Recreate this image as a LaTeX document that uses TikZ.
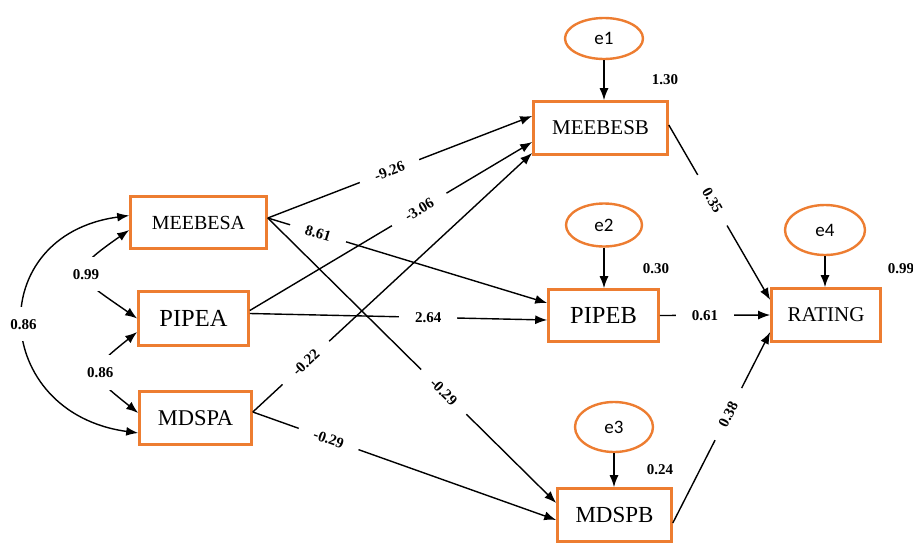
\documentclass[tikz,border=0pt]{standalone}
\usepackage{fontspec}
\setmainfont{Liberation Serif}
\newfontfamily\errfont{Carlito}
\usetikzlibrary{shapes.geometric,arrows.meta,calc}
\definecolor{semorange}{HTML}{ED7D31}

\begin{document}
\begin{tikzpicture}[x=1pt, y=-1pt,
  var/.style={rectangle, draw=semorange, line width=2.6pt, inner sep=0pt, fill=white},
  err/.style={ellipse, draw=semorange, line width=2.4pt, inner sep=0pt, font=\errfont\fontsize{19}{22}\selectfont},
  coef/.style={font=\bfseries\fontsize{15}{18}\selectfont, fill=white, inner xsep=16pt, inner ysep=1pt},
  covcoef/.style={coef, inner xsep=2pt, inner ysep=12pt},
  effect/.style={-{Latex[length=12pt,width=9pt]}, line width=1.4pt},
  cov/.style={{Latex[length=12pt,width=9pt]}-{Latex[length=12pt,width=9pt]}, line width=1.4pt}
]
\useasboundingbox (0,0) rectangle (913,544);
% exogenous
\node[var, minimum width=136, minimum height=52, font=\fontsize{20}{24}\selectfont] (MEEBESA) at (198.5,222.5) {MEEBESA};
\node[var, minimum width=110, minimum height=54, font=\fontsize{24.5}{28}\selectfont] (PIPEA) at (193.5,318.5) {PIPEA};
\node[var, minimum width=112, minimum height=53, font=\fontsize{22.5}{26}\selectfont] (MDSPA) at (195.5,418) {MDSPA};
% endogenous
\node[var, minimum width=134, minimum height=53, font=\fontsize{21}{25}\selectfont] (MEEBESB) at (600.5,128) {MEEBESB};
\node[var, minimum width=110, minimum height=52, font=\fontsize{24.5}{28}\selectfont] (PIPEB) at (603.5,315.5) {PIPEB};
\node[var, minimum width=114, minimum height=53, font=\fontsize{23}{27}\selectfont] (MDSPB) at (614.5,515) {MDSPB};
\node[var, minimum width=109, minimum height=53, font=\fontsize{21}{25}\selectfont] (RATING) at (826,315) {RATING};
% errors
\node[err, minimum width=78, minimum height=41] (e1) at (604,38.5) {e1};
\node[err, minimum width=76, minimum height=43] (e2) at (604,225) {e2};
\node[err, minimum width=78, minimum height=50] (e3) at (614,427) {e3};
\node[err, minimum width=80, minimum height=50] (e4) at (825,230) {e4};
% variances
\node[coef, fill=none, inner sep=0pt] (v1) at (665,80) {1.30};
\node[coef, fill=none, inner sep=0pt] (v2) at (656,269) {0.30};
\node[coef, fill=none, inner sep=0pt] (v3) at (660,470) {0.24};
\node[coef, fill=none, inner sep=0pt] (v4) at (901,269) {0.99};
% error paths
\draw[effect] (e1) -- (e1 |- MEEBESB.north);
\draw[effect] (e2) -- (e2 |- PIPEB.north);
\draw[effect] (e3) -- (e3 |- MDSPB.north);
\draw[effect] (e4) -- (e4 |- RATING.north);
% covariances
\draw[cov] ([yshift=7]MEEBESA.west) .. controls +(-147,20) and +(-147,-20) .. node[covcoef]{0.86} ([yshift=-15]MDSPA.west);
\draw[cov] ([yshift=-7.5]MEEBESA.west) .. controls +(-63,44) and +(-63,-44) .. node[covcoef]{0.99} (PIPEA.west);
\draw[cov] ([yshift=-13.5]PIPEA.west) .. controls +(-50,40) and +(-50,-40) .. node[covcoef]{0.86} ([yshift=5]MDSPA.west);
% paths A -> B
\draw[effect] ([yshift=4.5]MEEBESA.east) -- node[coef, sloped, pos=0.46]{-9.26} ([yshift=12]MEEBESB.west);
\draw[effect] ([yshift=4.5]MEEBESA.east) -- node[coef, sloped, pos=0.18]{8.61} ([yshift=12.5]PIPEB.west);
\draw[effect] ([yshift=4.5]MEEBESA.east) -- node[coef, sloped, pos=0.61]{-0.29} ([yshift=12]MDSPB.west);
\draw[effect] ([yshift=8]PIPEA.east) -- node[coef, sloped, pos=0.6]{-3.06} ([yshift=-14]MEEBESB.west);
\draw[effect] ([yshift=5]PIPEA.east) -- node[coef, pos=0.6]{2.64} ([yshift=-4.5]PIPEB.west);
\draw[effect] ([yshift=6]MDSPA.east) -- node[coef, sloped, pos=0.19]{-0.22} ([yshift=-25]MEEBESB.west);
\draw[effect] ([yshift=6]MDSPA.east) -- node[coef, sloped, pos=0.25]{-0.29} ([yshift=-5]MDSPB.west);
% paths B -> RATING
\draw[effect] ([yshift=3]MEEBESB.east) -- node[coef, sloped, pos=0.43]{0.35} ([yshift=15]RATING.west);
\draw[effect] (PIPEB.east) -- node[coef, pos=0.41]{0.61} (RATING.west);
\draw[effect] ([yshift=-8]MDSPB.east) -- node[coef, sloped, pos=0.57]{0.38} ([yshift=-17]RATING.west);
\end{tikzpicture}
\end{document}
